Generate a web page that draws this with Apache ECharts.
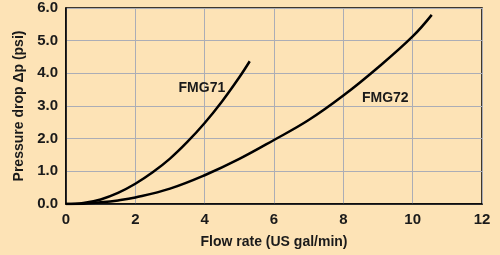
<!DOCTYPE html>
<html>
<head>
<meta charset="utf-8">
<script src="https://cdn.jsdelivr.net/npm/echarts@6/dist/echarts.min.js"></script>
<style>
  html, body { margin: 0; padding: 0; background: #fde3b6; }
  #chart { width: 500px; height: 255px; }
</style>
</head>
<body>
<div id="chart"></div>
<script>
// Flow rate (US gal/min) vs pressure drop (psi)
const fmg71Flow = [0, 0.5, 1, 1.5, 2, 2.5, 3, 3.5, 4, 4.5, 5, 5.3];
const fmg71Drop = [0, 0.03, 0.14, 0.34, 0.62, 0.97, 1.39, 1.9, 2.48, 3.14, 3.88, 4.37];
const fmg72Flow = [0, 0.5, 1, 1.5, 2, 3, 4, 5, 6, 7, 8, 9, 10, 10.55];
const fmg72Drop = [0, 0.01, 0.05, 0.11, 0.2, 0.47, 0.88, 1.38, 1.96, 2.57, 3.32, 4.18, 5.13, 5.79];
const curveNames = ['FMG71', 'FMG72'];
const labelPos = [[3.92, 3.55], [9.21, 3.24]];

const colors = {
  bg: '#fde3b6',
  grid: '#abadb6',
  text: '#1a1a1a',
  line: '#000000'
};

const font = 'Liberation Sans, Arial, sans-serif';

function pairs(xs, ys) {
  return xs.map((x, i) => [x, ys[i]]);
}

function curve(name, data, pos) {
  return {
    name: name,
    type: 'line',
    data: data,
    smooth: 0.4,
    showSymbol: false,
    lineStyle: { color: colors.line, width: 2.5 },
    markPoint: {
      symbol: 'circle',
      symbolSize: 0,
      data: [{ coord: pos }],
      label: {
        show: true,
        position: 'inside',
        formatter: name,
        color: colors.text,
        fontFamily: font,
        fontWeight: 'bold',
        fontSize: 14
      }
    }
  };
}

const chart = echarts.init(document.getElementById('chart'));
chart.setOption({
  backgroundColor: colors.bg,
  animation: false,
  grid: {
    left: 66, right: 18, top: 8, bottom: 51,
    show: true, borderColor: '#000', borderWidth: 1.5
  },
  xAxis: {
    type: 'value',
    min: 0, max: 12, interval: 2,
    name: 'Flow rate (US gal/min)',
    nameLocation: 'middle',
    nameGap: 31,
    nameTextStyle: { color: colors.text, fontFamily: font, fontWeight: 'bold', fontSize: 14 },
    axisLine: { lineStyle: { color: '#000', width: 1.5 } },
    axisTick: { show: false },
    axisLabel: { color: colors.text, fontFamily: font, fontWeight: 'bold', fontSize: 15, margin: 8 },
    splitLine: { lineStyle: { color: colors.grid, width: 1 } }
  },
  yAxis: {
    type: 'value',
    min: 0, max: 6, interval: 1,
    name: 'Pressure drop Δp (psi)',
    nameLocation: 'middle',
    nameGap: 38,
    nameTextStyle: { color: colors.text, fontFamily: font, fontWeight: 'bold', fontSize: 14 },
    axisLine: { show: true, lineStyle: { color: '#000', width: 1.5 } },
    axisTick: { show: false },
    axisLabel: {
      color: colors.text, fontFamily: font, fontWeight: 'bold', fontSize: 15, margin: 8,
      formatter: v => v.toFixed(1)
    },
    splitLine: { lineStyle: { color: colors.grid, width: 1 } }
  },
  series: [
    curve(curveNames[0], pairs(fmg71Flow, fmg71Drop), labelPos[0]),
    curve(curveNames[1], pairs(fmg72Flow, fmg72Drop), labelPos[1])
  ]
});
</script>
</body>
</html>
